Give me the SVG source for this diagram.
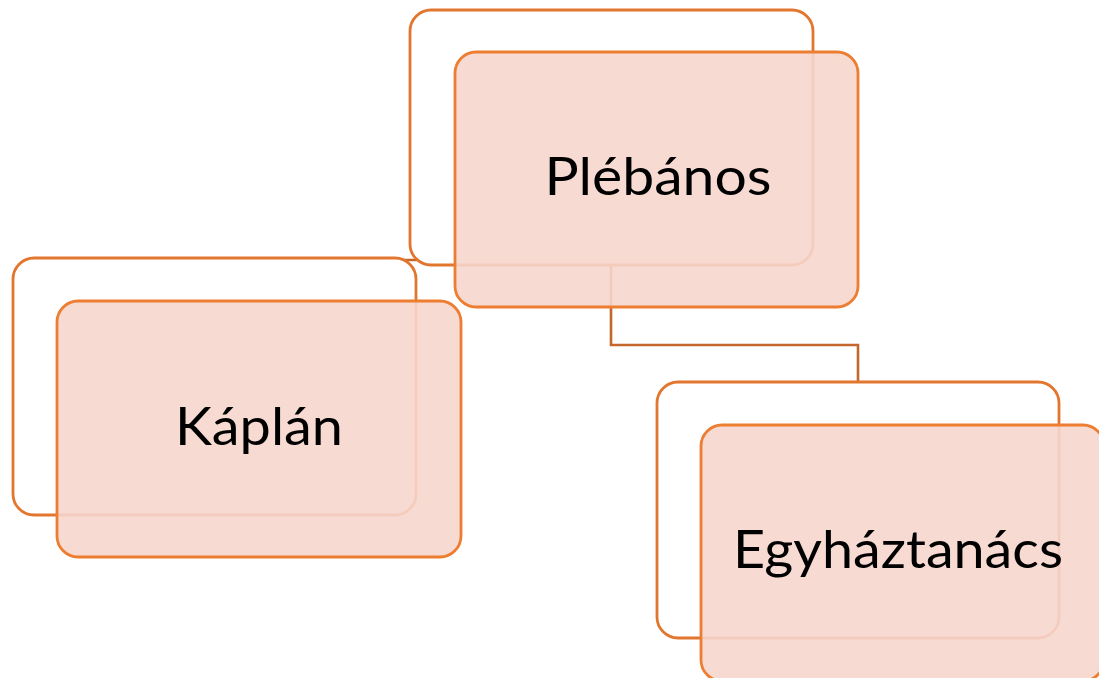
<svg xmlns="http://www.w3.org/2000/svg" width="1099" height="678" viewBox="0 0 1099 678">
  <style>
    .back { fill: #ffffff; stroke: #E2762F; stroke-width: 2.8; }
    .front { fill: #F6D6CD; fill-opacity: 0.9; stroke: #ED7D31; stroke-width: 2.8; }
    .link { fill: none; stroke: #C4672C; stroke-width: 2.6; }
    .label { font-family: Lato, "Open Sans", sans-serif; font-size: 53px; fill: #000000; text-anchor: middle; }
  </style>
  <rect width="1099" height="678" fill="#ffffff"/>

  <!-- connectors (drawn beneath the cards) -->
  <g id="connectors">
    <path class="link" d="M611,265 V345 H858 V382"/>
    <path class="link" d="M611,260 H398"/>
  </g>

  <!-- Plébános -->
  <g id="node-plebanos">
    <rect class="back" x="410" y="10" width="403" height="255" rx="21"/>
    <rect class="front" x="455" y="52" width="403" height="255" rx="21"/>
    <text class="label" x="658" y="195" textLength="227" lengthAdjust="spacingAndGlyphs">Plébános</text>
  </g>

  <!-- Káplán -->
  <g id="node-kaplan">
    <rect class="back" x="13" y="258" width="403" height="257" rx="21"/>
    <rect class="front" x="57" y="301" width="404" height="256" rx="21"/>
    <text class="label" x="259" y="445" textLength="168" lengthAdjust="spacingAndGlyphs">Káplán</text>
  </g>

  <!-- Egyháztanács -->
  <g id="node-egyhaztanacs">
    <rect class="back" x="657" y="382" width="402" height="256" rx="21"/>
    <rect class="front" x="701" y="425" width="403" height="256" rx="21"/>
    <text class="label" x="898" y="568" textLength="330" lengthAdjust="spacingAndGlyphs">Egyháztanács</text>
  </g>
</svg>
